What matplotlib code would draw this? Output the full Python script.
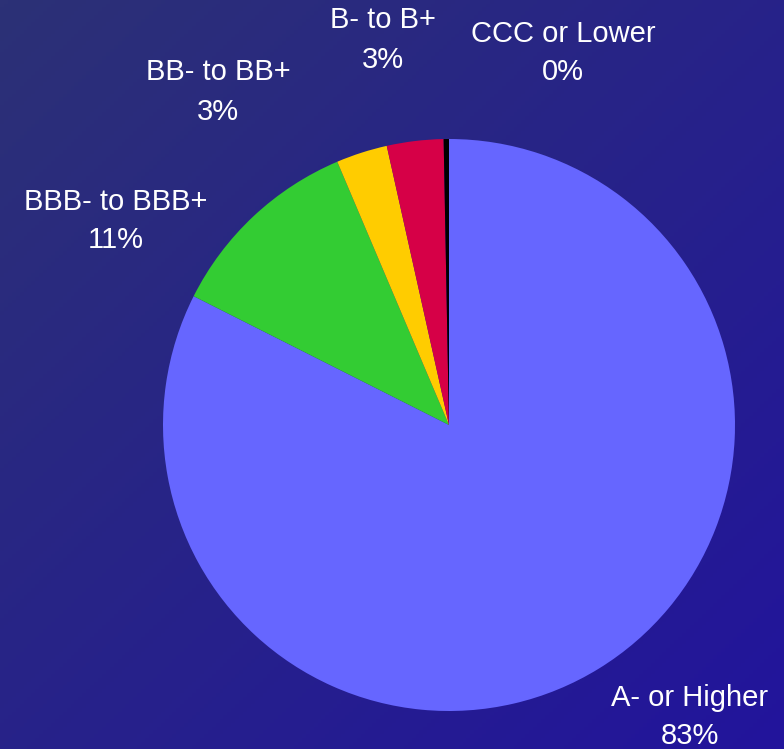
import numpy as np
import matplotlib
matplotlib.use("Agg")
import matplotlib.pyplot as plt
from matplotlib.colors import LinearSegmentedColormap

plt.rcParams["font.family"] = ["Liberation Sans", "DejaVu Sans"]

# data
categories = ["A- or Higher", "BBB- to BBB+", "BB- to BB+", "B- to B+", "CCC or Lower"]
shares = [82.6, 11.2, 2.9, 3.2, 0.3]
colors = ["#6666ff", "#33cc33", "#ffcc00", "#d60047", "#000000"]

# label block centres (pixels, y measured from top)
label_pos = [(690, 717), (116, 221), (218, 92), (383, 40), (563, 53)]

W, H = 784, 749
fig = plt.figure(figsize=(W / 100, H / 100), dpi=100)
ax = fig.add_axes([0, 0, 1, 1])

# diagonal gradient background
bg = LinearSegmentedColormap.from_list("bg", ["#2c3176", "#22149c"])
yy, xx = np.mgrid[0:1:200j, 0:1:200j]
grad = (xx + yy) / 2
ax.imshow(grad, cmap=bg, extent=[0, W, 0, H], origin="upper", zorder=0, aspect="auto")

ax.pie(shares, colors=colors, startangle=90, counterclock=False,
       center=(449, H - 425), radius=286, frame=True,
       wedgeprops=dict(linewidth=0, zorder=2))
ax.set_xlim(0, W)
ax.set_ylim(0, H)
ax.axis("off")

for name, val, (x, y) in zip(categories, shares, label_pos):
    ax.text(x, H - y, f"{name}\n{round(val):.0f}%", color="white", fontsize=21,
            ha="center", va="center", linespacing=1.5, zorder=3)

plt.savefig("out.png", dpi=100)
